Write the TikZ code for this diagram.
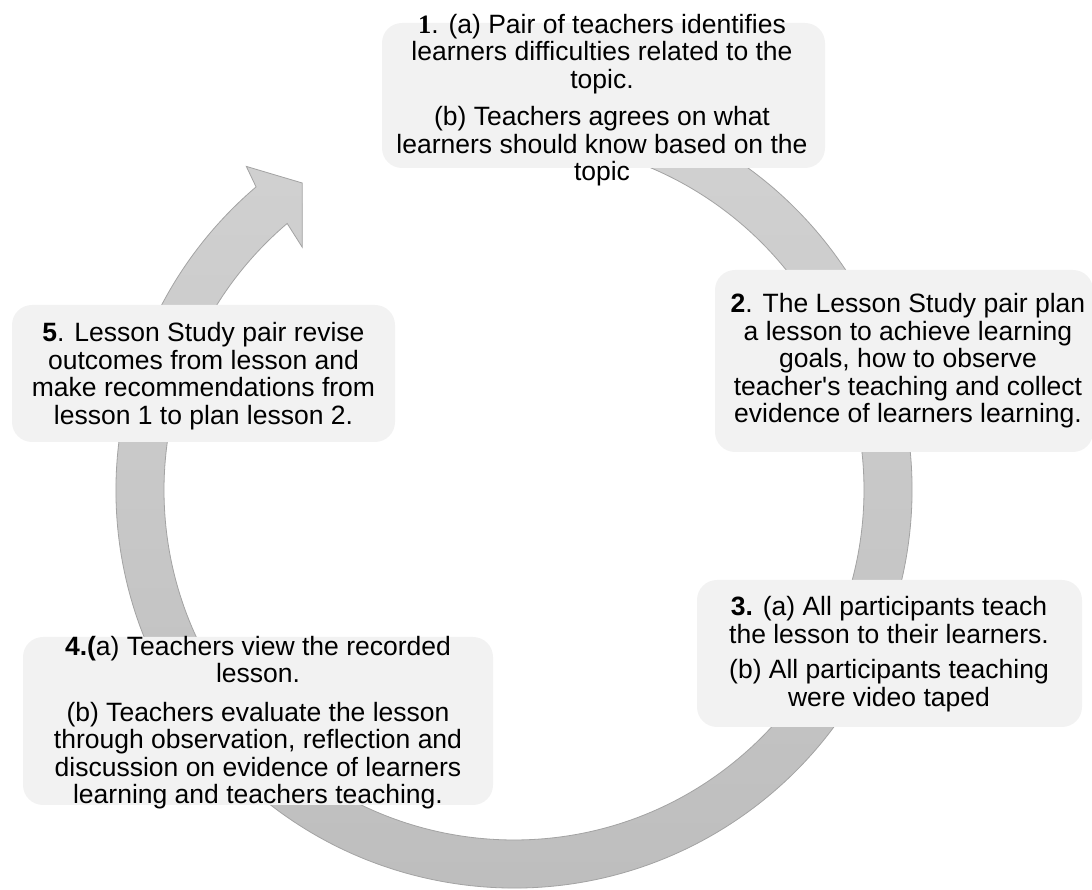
\documentclass[tikz,border=0pt]{standalone}
\usepackage{fontspec}
\setmainfont{Liberation Sans}
\newfontfamily\numserif{Liberation Serif}
\definecolor{boxfill}{HTML}{F2F2F2}
\definecolor{ringtop}{HTML}{D2D2D2}
\definecolor{ringbot}{HTML}{BDBDBD}
\definecolor{ringedge}{HTML}{A3A3A3}
\tikzset{
  stepbox/.style={fill=boxfill, rounded corners=20pt, inner sep=0pt, draw=none},
  steptext/.style={align=center, inner sep=0pt, text=black, font=\fontsize{26.5}{27.5}\selectfont},
}
\begin{document}
\begin{tikzpicture}[x=1pt,y=1pt]
\useasboundingbox (0,0) rectangle (1092,890);
\coordinate (C) at (514,400);
% circular arrow
\path[draw=ringedge, line width=0.8pt, top color=ringtop, bottom color=ringbot]
  ([shift={(80:398pt)}]C) arc[start angle=80, end angle=-229.6, radius=398pt]
  -- ([shift={(129.6:420pt)}]C)
  -- ([shift={(124.6:373pt)}]C)
  -- ([shift={(131.1:322pt)}]C)
  -- ([shift={(130.4:350pt)}]C)
  arc[start angle=130.4, end angle=440, radius=350pt] -- cycle;
% boxes
\node[stepbox, minimum width=443pt, minimum height=145pt] (b1) at (603.5,794.5) {};
\node[stepbox, minimum width=378pt, minimum height=182pt] (b2) at (904,529) {};
\node[stepbox, minimum width=385pt, minimum height=147pt] (b3) at (889.5,236.5) {};
\node[stepbox, minimum width=470pt, minimum height=168pt] (b4) at (258,169) {};
\node[stepbox, minimum width=383pt, minimum height=137pt] (b5) at (203.5,516.5) {};
% texts
\node[steptext] (t1) at (602,790) {{\numserif\bfseries 1}. (a) Pair of teachers identifies\\ learners difficulties related to the\\ topic.\\[10pt] (b) Teachers agrees on what\\ learners should know based on the\\ topic};
\node[steptext] (t2) at (908,529) {{\bfseries 2}. The Lesson Study pair plan\\ a lesson to achieve learning\\ goals, how to observe\\ teacher\textquotesingle s teaching and collect\\ evidence of learners learning.};
\node[steptext] (t3) at (889,236) {{\bfseries 3.} (a) All participants teach\\ the lesson to their learners.\\[8pt] (b) All participants teaching\\ were video taped};
\node[steptext] (t4) at (258,167.5) {{\bfseries 4.(}a) Teachers view the recorded\\ lesson.\\[11pt] (b) Teachers evaluate the lesson\\ through observation, reflection and\\ discussion on evidence of learners\\ learning and teachers teaching.};
\node[steptext] (t5) at (203.5,514) {{\bfseries 5}. Lesson Study pair revise\\ outcomes from lesson and\\ make recommendations from\\ lesson 1 to plan lesson 2.};
\end{tikzpicture}
\end{document}
